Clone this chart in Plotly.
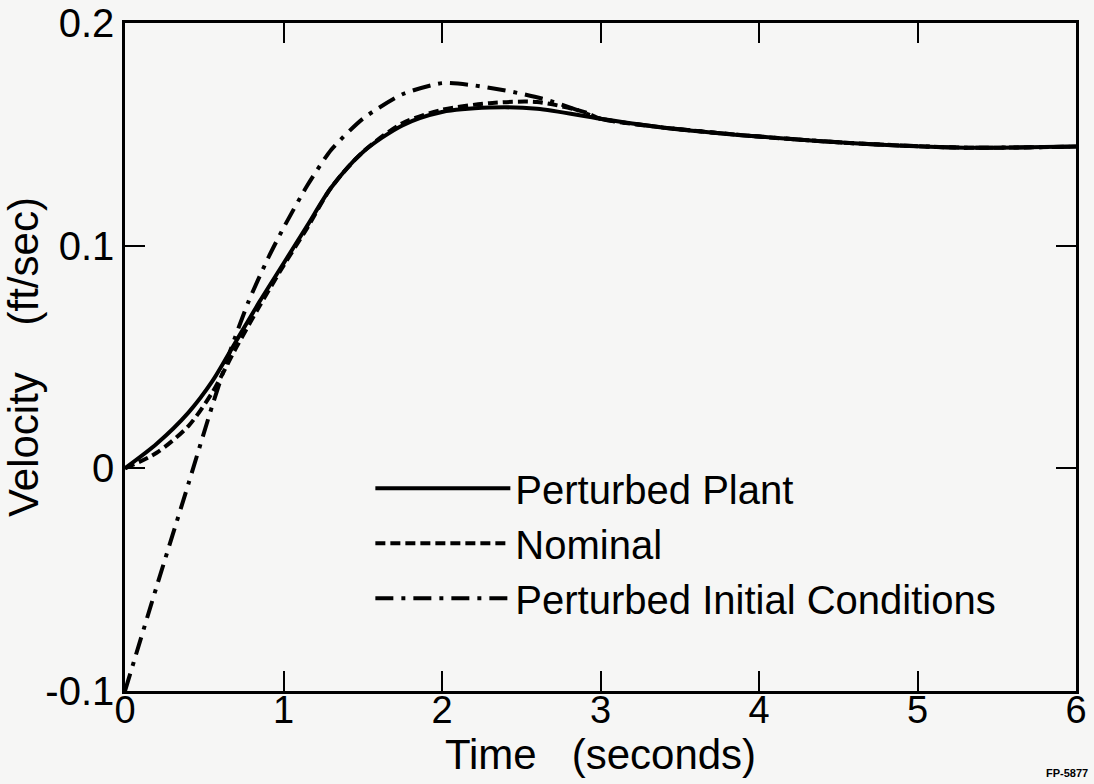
import plotly.graph_objects as go

# Perturbed Plant (solid)
t_plant = [0, 0.2, 0.4, 0.55, 0.7, 0.85, 1.0, 1.15, 1.3, 1.5, 1.75, 2.0, 2.3, 2.6, 3.0, 3.4, 4.0, 4.6, 5.3, 6.0]
v_plant = [0, 0.011, 0.025, 0.039, 0.057, 0.075, 0.092, 0.109, 0.126, 0.142, 0.154, 0.160, 0.162, 0.1615, 0.157, 0.153, 0.149, 0.146, 0.144, 0.1445]

# Nominal (dashed)
t_nom = [0, 0.2, 0.4, 0.55, 0.7, 0.85, 1.0, 1.15, 1.3, 1.5, 1.75, 2.0, 2.3, 2.6, 2.9, 3.0, 3.4, 4.0, 4.6, 5.3, 6.0]
v_nom = [0, 0.007, 0.019, 0.034, 0.054, 0.073, 0.091, 0.108, 0.126, 0.142, 0.155, 0.161, 0.164, 0.1645, 0.160, 0.157, 0.153, 0.149, 0.146, 0.144, 0.1445]

# Perturbed Initial Conditions (dash-dot)
t_pic = [0, 0.2, 0.4, 0.55, 0.66, 0.78, 0.9, 1.0, 1.15, 1.3, 1.5, 1.75, 2.0, 2.2, 2.45, 2.66, 2.85, 3.0, 3.4, 4.0, 4.6, 5.3, 6.0]
v_pic = [-0.1, -0.053, -0.007, 0.028, 0.052, 0.075, 0.094, 0.108, 0.127, 0.143, 0.157, 0.168, 0.173, 0.172, 0.169, 0.1655, 0.161, 0.157, 0.153, 0.149, 0.146, 0.144, 0.1445]

x_ticks = [0, 1, 2, 3, 4, 5, 6]
x_labels = ["0", "1", "2", "3", "4", "5", "6"]
y_ticks = [-0.1, 0, 0.1, 0.2]
y_labels = ["-0.1", "0", "0.1", "0.2"]

FONT = "Liberation Sans, Arial, sans-serif"

fig = go.Figure()
fig.add_trace(go.Scatter(x=t_plant, y=v_plant, mode="lines", name="Perturbed Plant",
                         line=dict(color="black", width=4, shape="spline", smoothing=0.8)))
fig.add_trace(go.Scatter(x=t_nom, y=v_nom, mode="lines", name="Nominal",
                         line=dict(color="black", width=4, dash="10px,5px", shape="spline", smoothing=0.8)))
fig.add_trace(go.Scatter(x=t_pic, y=v_pic, mode="lines", name="Perturbed Initial Conditions",
                         line=dict(color="black", width=4, dash="18px,8px,4px,8px", shape="spline", smoothing=0.6)))

axis_common = dict(showgrid=False, zeroline=False, showline=True, linecolor="black", linewidth=2.5,
                   mirror="ticks", ticks="inside", ticklen=20, tickwidth=1.5, tickcolor="black",
                   automargin=False)

fig.update_xaxes(range=[0, 6], tickvals=x_ticks, ticktext=x_labels, ticklabelstandoff=-16,
                 tickfont=dict(family=FONT, size=38, color="black"),
                 title=dict(text="Time   (seconds)", font=dict(family=FONT, size=42, color="black"), standoff=0),
                 **axis_common)
fig.update_yaxes(range=[-0.1, 0.2], tickvals=y_ticks, ticktext=y_labels,
                 tickfont=dict(family=FONT, size=40, color="black"),
                 title=dict(text="Velocity    (ft/sec)", font=dict(family=FONT, size=42, color="black"), standoff=4),
                 **axis_common)

fig.update_layout(
    width=1094, height=784,
    margin=dict(l=125, r=18, t=23, b=93),
    paper_bgcolor="#f6f6f5", plot_bgcolor="#f6f6f5",
    showlegend=True,
    legend=dict(x=0.258, y=0.352, xanchor="left", yanchor="top", bgcolor="rgba(0,0,0,0)",
                font=dict(family=FONT, size=40, color="black"), itemwidth=135, tracegroupgap=0),
    annotations=[dict(text="<b>FP-5877</b>", xref="paper", yref="paper", x=1.0147, y=-0.123,
                      xanchor="right", yanchor="middle", showarrow=False,
                      font=dict(family=FONT, size=11, color="black"))],
)

fig.write_html("out.html", config={"displayModeBar": False},
               post_script="document.body.style.margin='0';document.body.style.overflow='hidden';")
